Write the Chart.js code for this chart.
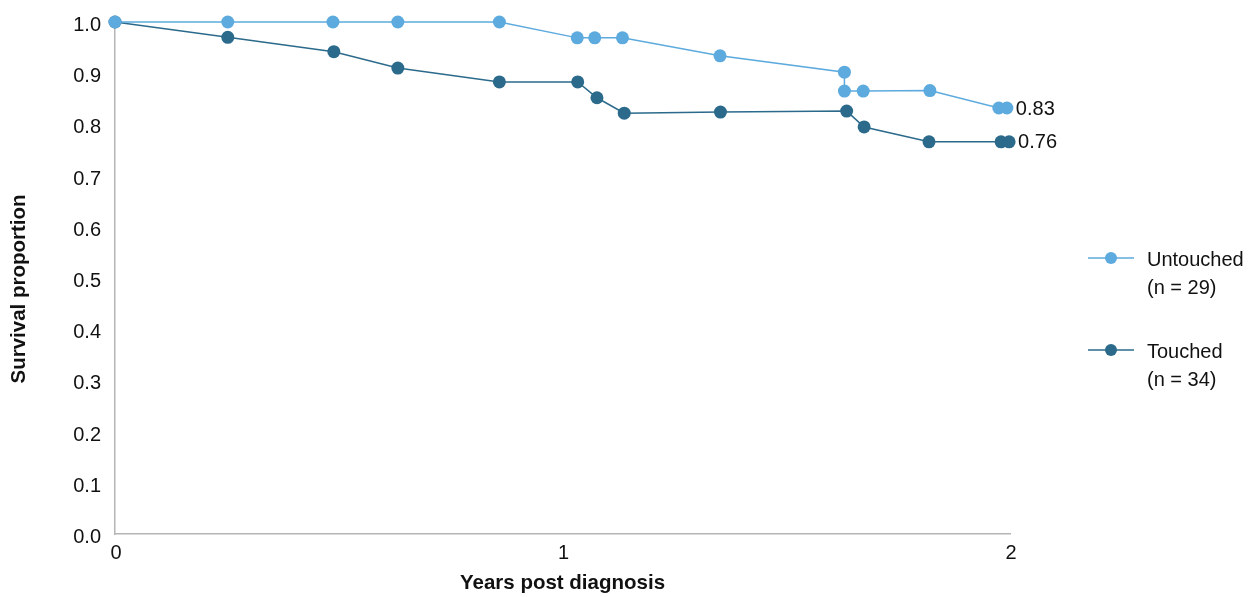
<!DOCTYPE html>
<html lang="en">
<head>
  <meta charset="UTF-8">
  <title>Survival proportion</title>
  <style>
    body { margin: 0; background: #fff; }
    .chart-container { width: 1252px; height: 597px; }
  </style>
</head>
<body>
  <div class="chart-container">
    <canvas id="survivalChart"></canvas>
  </div>

  <script src="https://cdn.jsdelivr.net/npm/chart.js"></script>
  <script>
    // Kaplan-Meier style estimates
    const untouchedYears = [0, 0.252, 0.487, 0.632, 0.859, 1.033, 1.072, 1.134, 1.352, 1.630, 1.630, 1.672, 1.821, 1.975, 1.993];
    const untouchedSurvival = [1.0, 1.0, 1.0, 1.0, 1.0, 0.969, 0.969, 0.969, 0.934, 0.902, 0.865, 0.865, 0.866, 0.832, 0.832];
    const touchedYears = [0, 0.252, 0.489, 0.632, 0.859, 1.034, 1.077, 1.138, 1.353, 1.635, 1.674, 1.819, 1.980, 1.998];
    const touchedSurvival = [1.0, 0.970, 0.942, 0.910, 0.883, 0.883, 0.852, 0.822, 0.824, 0.826, 0.795, 0.766, 0.766, 0.766];

    const seriesNames = ['Untouched', 'Touched'];
    const seriesCounts = ['(n = 29)', '(n = 34)'];
    const endLabels = ['0.83', '0.76'];
    const xTicks = [0, 1, 2];
    const yTicks = [0, 0.1, 0.2, 0.3, 0.4, 0.5, 0.6, 0.7, 0.8, 0.9, 1.0];

    const colors = ['#5caade', '#2b6a8b'];
    const FONT = '"Liberation Sans", Arial, sans-serif';

    const toPoints = (xs, ys) => xs.map((x, i) => ({ x: x, y: ys[i] }));

    // end-of-curve labels, legend and y title
    const extrasPlugin = {
      id: 'extras',
      afterDatasetsDraw(chart) {
        const ctx = chart.ctx;
        ctx.save();
        ctx.fillStyle = '#111';
        ctx.font = '20px ' + FONT;
        ctx.textBaseline = 'middle';
        ctx.textAlign = 'left';

        chart.data.datasets.forEach((ds, i) => {
          const meta = chart.getDatasetMeta(i);
          const last = meta.data[meta.data.length - 1];
          ctx.fillText(endLabels[i], last.x + 9, last.y + 1);
        });

        // legend
        const legendY = [258, 350];
        seriesNames.forEach((name, i) => {
          const y = legendY[i];
          ctx.strokeStyle = colors[i];
          ctx.lineWidth = 1.5;
          ctx.beginPath();
          ctx.moveTo(1088, y);
          ctx.lineTo(1134, y);
          ctx.stroke();
          ctx.fillStyle = colors[i];
          ctx.beginPath();
          ctx.arc(1111, y, 6, 0, Math.PI * 2);
          ctx.fill();
          ctx.fillStyle = '#111';
          ctx.fillText(name, 1147, y + 2);
          ctx.fillText(seriesCounts[i], 1147, y + 30);
        });

        // y axis title
        ctx.font = 'bold 20.5px ' + FONT;
        ctx.textAlign = 'center';
        ctx.translate(19, 289);
        ctx.rotate(-Math.PI / 2);
        ctx.fillText('Survival proportion', 0, 0);
        ctx.restore();
      }
    };

    const ctx = document.getElementById('survivalChart').getContext('2d');
    new Chart(ctx, {
      type: 'line',
      data: {
        datasets: [
          {
            label: seriesNames[0],
            data: toPoints(untouchedYears, untouchedSurvival),
            borderColor: colors[0],
            backgroundColor: colors[0],
            borderWidth: 1.5,
            pointRadius: 6.5,
            pointHoverRadius: 6.5,
            pointBorderWidth: 0,
            fill: false,
            tension: 0
          },
          {
            label: seriesNames[1],
            data: toPoints(touchedYears, touchedSurvival),
            borderColor: colors[1],
            backgroundColor: colors[1],
            borderWidth: 1.5,
            pointRadius: 6.5,
            pointHoverRadius: 6.5,
            pointBorderWidth: 0,
            fill: false,
            tension: 0
          }
        ]
      },
      options: {
        responsive: true,
        maintainAspectRatio: false,
        animation: false,
        clip: false,
        layout: { padding: { left: 0, right: 242, top: 22, bottom: 0 } },
        plugins: {
          legend: { display: false },
          tooltip: { enabled: false }
        },
        scales: {
          x: {
            type: 'linear',
            min: 0,
            max: 2,
            afterBuildTicks: (scale) => { scale.ticks = xTicks.map(v => ({ value: v })); },
            afterFit: (scale) => {
              scale.height = 63;
              scale.paddingLeft = 0;
              scale.paddingRight = 0;
            },
            grid: { display: true, color: 'transparent', drawTicks: false },
            border: { display: true, color: '#b5b5b5', width: 1.5 },
            ticks: {
              padding: 7,
              labelOffset: 1,
              color: '#111',
              font: { family: FONT, size: 20 },
              callback: (v) => String(v)
            },
            title: {
              display: true,
              text: 'Years post diagnosis',
              color: '#111',
              font: { family: FONT, size: 20.5, weight: 'bold' },
              padding: { top: 0, bottom: 1 }
            }
          },
          y: {
            type: 'linear',
            min: 0,
            max: 1,
            afterBuildTicks: (scale) => { scale.ticks = yTicks.map(v => ({ value: v })); },
            afterFit: (scale) => {
              scale.width = 115;
              scale.paddingTop = 0;
              scale.paddingBottom = 0;
            },
            grid: { display: true, color: 'transparent', drawTicks: false },
            border: { display: true, color: '#b5b5b5', width: 1.5 },
            ticks: {
              padding: 14,
              labelOffset: 3.5,
              color: '#111',
              font: { family: FONT, size: 20 },
              callback: (v) => v.toFixed(1)
            }
          }
        }
      },
      plugins: [extrasPlugin]
    });
  </script>
</body>
</html>
